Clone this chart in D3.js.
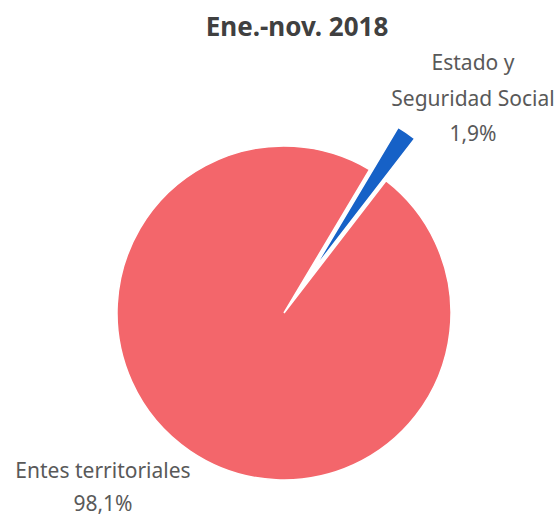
<!DOCTYPE html>
<html><head><meta charset="utf-8">
<script src="https://cdn.jsdelivr.net/npm/d3@7"></script>
<style>body{margin:0;background:#fff}svg{display:block}</style>
</head><body>
<svg id="c" width="558" height="517"></svg>
<script>
const title = "Ene.-nov. 2018";
const categories = ["Estado y Seguridad Social", "Entes territoriales"];
const labelLines = [["Estado y", "Seguridad Social", "1,9%"], ["Entes territoriales", "98,1%"]];
const values = [1.9, 98.1];
const colors = ["#1661C7", "#F3666B"];

const svg = d3.select("#c");
const cx = 284, cy = 313, r = 167, explode = 51;
const font = "'Noto Sans', sans-serif";

svg.append("text").attr("x", 297).attr("y", 36).attr("text-anchor", "middle")
  .attr("font-family", font).attr("font-weight", "bold").attr("font-size", 26)
  .attr("fill", "#404040").text(title);

const pie = d3.pie().sort(null).startAngle(30.8 * Math.PI / 180).endAngle((30.8 + 360) * Math.PI / 180);
const arcs = pie(values);
const arc = d3.arc().innerRadius(0).outerRadius(r);
const g = svg.append("g").attr("transform", `translate(${cx},${cy})`);
g.selectAll("path").data(arcs).join("path")
  .attr("d", arc)
  .attr("fill", (d, i) => colors[i])
  .attr("stroke", "#fff").attr("stroke-width", 1.5)
  .attr("transform", (d, i) => {
    if (i !== 0) return null;
    const a = (d.startAngle + d.endAngle) / 2;
    return `translate(${explode * Math.sin(a)},${-explode * Math.cos(a)})`;
  });

const labelPos = [{x: 473, y: 70, dy: 35.5}, {x: 103, y: 478, dy: 33}];
labelLines.forEach((lines, i) => {
  const t = svg.append("text").attr("text-anchor", "middle")
    .attr("font-family", font).attr("font-size", 21).attr("fill", "#595959");
  lines.forEach((l, j) => t.append("tspan").attr("x", labelPos[i].x)
    .attr("y", labelPos[i].y + j * labelPos[i].dy).text(l));
});
</script>
</body></html>
